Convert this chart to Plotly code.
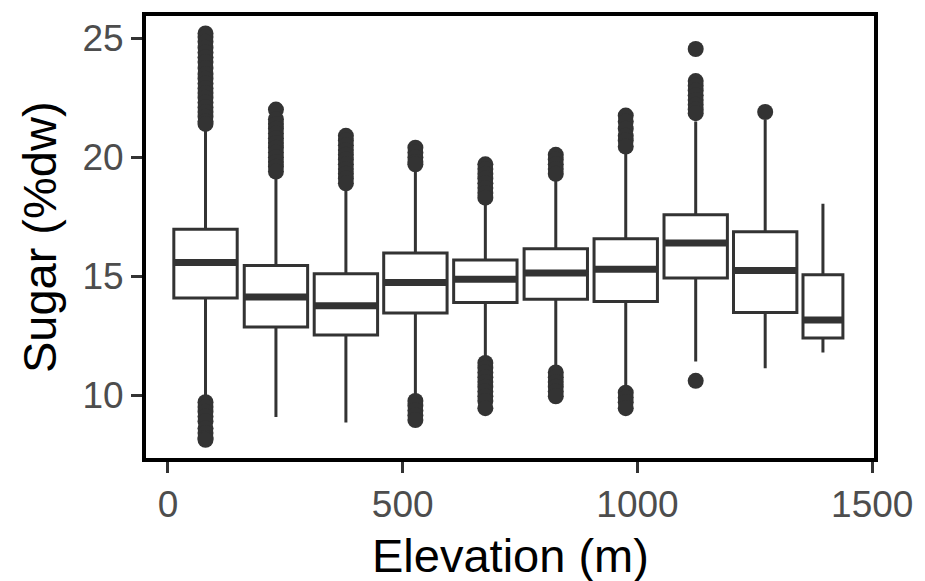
import plotly.graph_objects as go

# ---- data ----
centers = [80, 230, 379, 527, 676, 826, 975, 1124, 1272, 1395]
widths = [135, 135, 135, 135, 135, 135, 135, 135, 135, 85]
q1 = [14.08, 12.86, 12.53, 13.45, 13.89, 14.03, 13.93, 14.92, 13.47, 12.40]
median = [15.57, 14.12, 13.75, 14.73, 14.87, 15.13, 15.29, 16.39, 15.24, 13.16]
q3 = [16.97, 15.45, 15.10, 15.97, 15.68, 16.15, 16.57, 17.58, 16.87, 15.06]
lowerfence = [9.80, 9.08, 8.85, 9.90, 11.45, 11.05, 10.15, 11.41, 11.13, 11.79]
upperfence = [21.30, 19.30, 18.80, 19.65, 18.20, 19.20, 20.40, 21.50, 21.57, 18.04]
outliers = [
    [25.2, 25.05, 24.85, 24.6, 24.4, 24.2, 24.0, 23.75, 23.5, 23.3, 23.1, 22.9,
     22.7, 22.5, 22.3, 22.1, 21.9, 21.7, 21.5, 21.4,
     9.7, 9.5, 9.3, 9.1, 8.9, 8.6, 8.4, 8.2, 8.12],
    [22.0, 21.6, 21.4, 21.2, 21.0, 20.8, 20.6, 20.4, 20.2, 20.0, 19.8, 19.6, 19.4],
    [20.9, 20.7, 20.5, 20.3, 20.1, 19.9, 19.7, 19.5, 19.3, 19.1, 18.9],
    [20.4, 20.2, 20.0, 19.8, 19.7,
     9.75, 9.55, 9.35, 9.15, 8.95],
    [19.7, 19.5, 19.3, 19.1, 18.9, 18.7, 18.5, 18.3,
     11.35, 11.15, 10.95, 10.75, 10.55, 10.35, 10.15, 9.95, 9.75, 9.45],
    [20.1, 19.9, 19.7, 19.5, 19.3,
     10.95, 10.75, 10.55, 10.35, 10.15, 9.95],
    [21.75, 21.5, 21.2, 20.9, 20.7, 20.45,
     10.1, 9.9, 9.7, 9.45],
    [24.55, 23.2, 23.0, 22.8, 22.6, 22.4, 22.2, 22.0, 21.85,
     10.6],
    [21.9],
    [],
]
x_ticks = [0, 500, 1000, 1500]
y_ticks = [10, 15, 20, 25]

LINE = "#333333"
FONT = "Liberation Sans, Arial, sans-serif"

fig = go.Figure()

for i, c in enumerate(centers):
    fig.add_trace(go.Box(
        x=[c], q1=[q1[i]], median=[median[i]], q3=[q3[i]],
        lowerfence=[lowerfence[i]], upperfence=[upperfence[i]],
        width=widths[i], fillcolor="white",
        line=dict(color=LINE, width=3), whiskerwidth=0,
        boxpoints=False, showlegend=False, hoverinfo="skip",
    ))
    # thicker median bar (ggplot style)
    fig.add_trace(go.Scatter(
        x=[c - widths[i] / 2, c + widths[i] / 2], y=[median[i], median[i]],
        mode="lines", line=dict(color=LINE, width=7),
        showlegend=False, hoverinfo="skip",
    ))
    if outliers[i]:
        fig.add_trace(go.Scatter(
            x=[c] * len(outliers[i]), y=outliers[i], mode="markers",
            marker=dict(color=LINE, size=16, line=dict(width=0)),
            showlegend=False, hoverinfo="skip",
        ))

fig.update_layout(
    width=925, height=581,
    margin=dict(l=144, r=45, t=14, b=121),
    plot_bgcolor="white", paper_bgcolor="white",
    font=dict(family=FONT),
    boxmode="overlay",
    shapes=[dict(type="rect", xref="paper", yref="paper", x0=0, y0=0, x1=1, y1=1,
                 line=dict(color="black", width=4), layer="above")],
    annotations=[
        dict(text="Elevation (m)", xref="paper", yref="paper", x=0.5, y=-0.215,
             xanchor="center", yanchor="middle", showarrow=False,
             font=dict(size=47, color="black", family=FONT)),
        dict(text="Sugar (%dw)", xref="paper", yref="paper", x=-0.1433, y=0.5,
             xanchor="center", yanchor="middle", showarrow=False, textangle=-90,
             font=dict(size=47, color="black", family=FONT)),
    ],
)
fig.update_xaxes(
    range=[-51, 1508], tickvals=x_ticks, ticktext=[str(v) for v in x_ticks],
    showgrid=False, zeroline=False, showline=False,
    ticks="outside", ticklen=12, tickwidth=3, tickcolor=LINE,
    tickfont=dict(size=37, color="#4d4d4d", family=FONT),
)
fig.update_yaxes(
    range=[7.27, 26.02], tickvals=y_ticks, ticktext=[str(v) for v in y_ticks],
    showgrid=False, zeroline=False, showline=False,
    ticks="outside", ticklen=12, tickwidth=3, tickcolor=LINE,
    tickfont=dict(size=37, color="#4d4d4d", family=FONT),
)

fig.write_html("out.html")
